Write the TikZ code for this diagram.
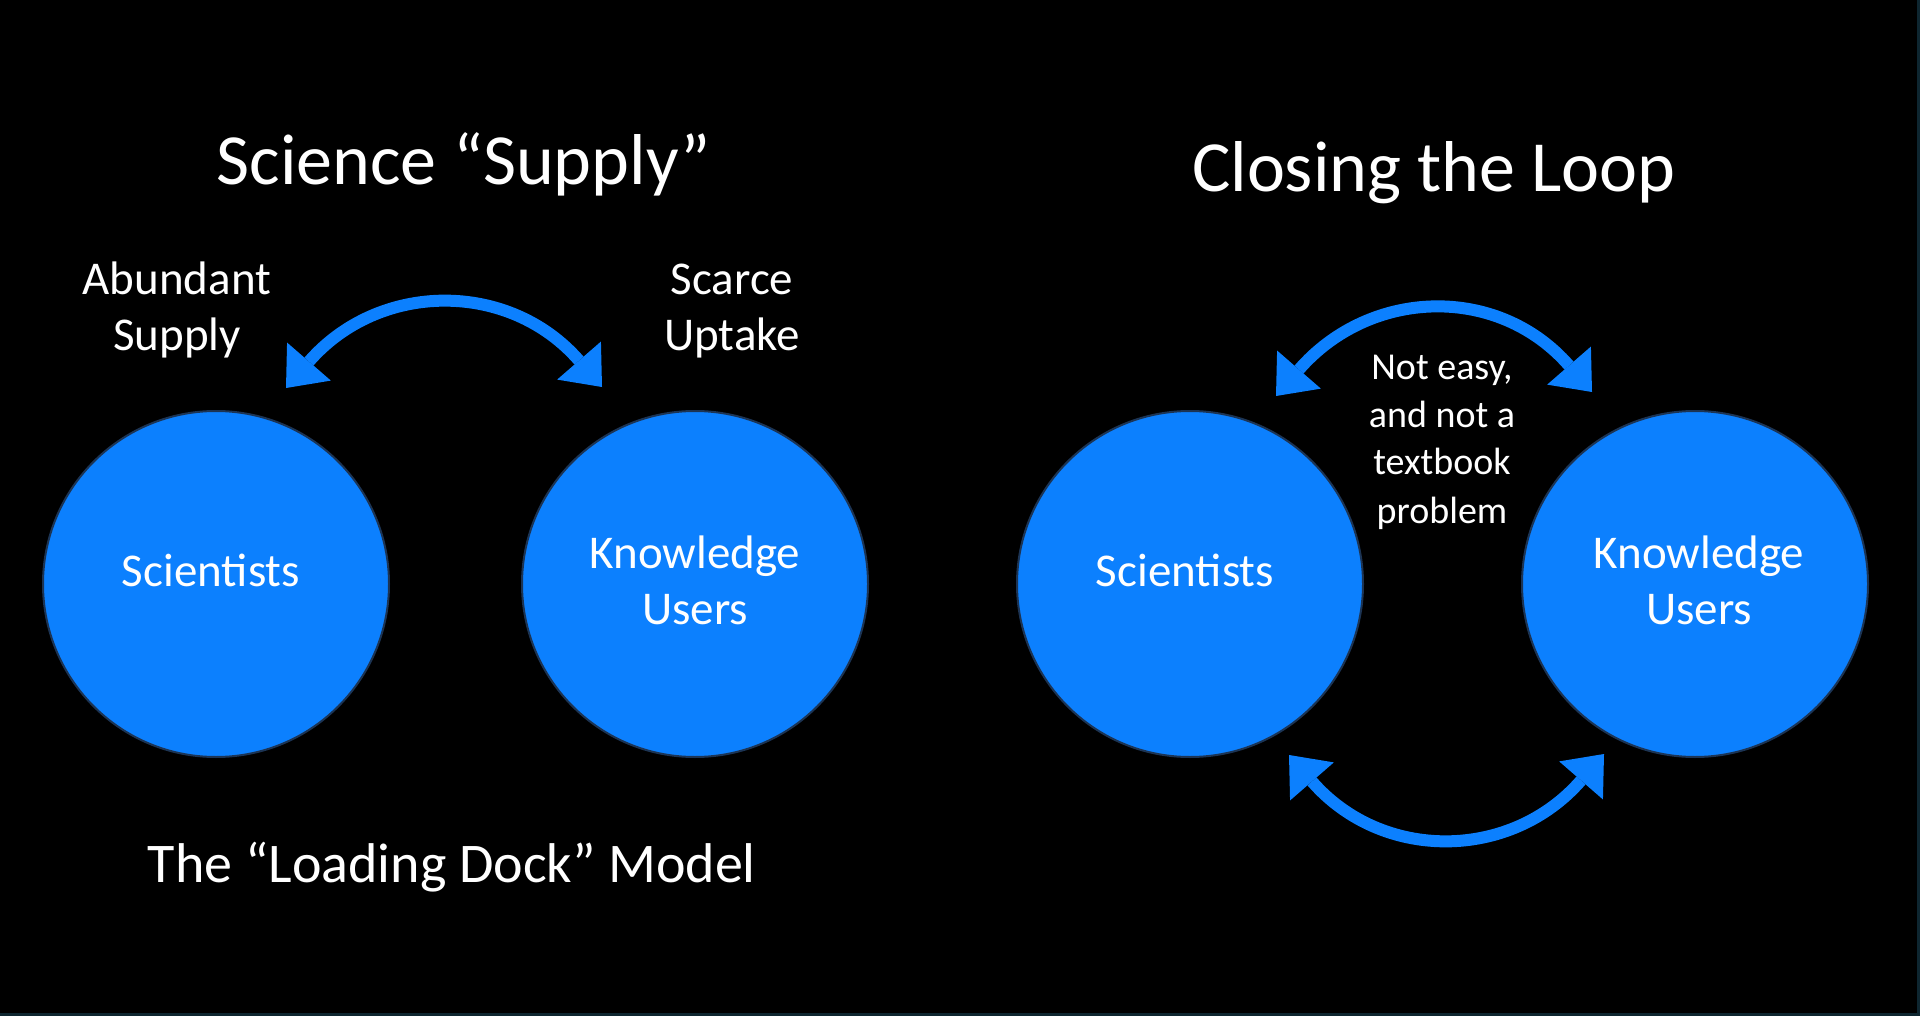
\documentclass[tikz,border=0pt]{standalone}
\usepackage{fontspec}
\setmainfont{Carlito}
\usetikzlibrary{arrows.meta}
\definecolor{azure}{RGB}{12,128,254}
\definecolor{rimblue}{RGB}{28,52,84}
\definecolor{edgeteal}{RGB}{14,38,48}
\newcommand\stackedlines[1]{\begin{tabular}[t]{@{}c@{}}#1\end{tabular}}
\begin{document}
\begin{tikzpicture}[x=1pt,y=-1pt,
  bubble/.style={circle, fill=azure, draw=rimblue, line width=2pt, minimum size=346pt, inner sep=0pt},
  txt/.style={text=white, inner sep=0pt, anchor=base, font=\fontsize{47}{56}\selectfont},
  ttl/.style={text=white, inner sep=0pt, anchor=base, font=\fontsize{72}{86}\selectfont},
  smalltxt/.style={text=white, inner sep=0pt, anchor=base, font=\fontsize{38}{48}\selectfont},
  link/.style={draw=azure, line width=12pt,
    {Triangle[length=35pt,width=58pt,line width=0pt]}-{Triangle[length=35pt,width=58pt,line width=0pt]}}]
% background and frame
\fill[black] (0,0) rectangle (1920,1016);
\fill[edgeteal] (1917,0) rectangle (1920,1016);
\fill[edgeteal] (0,1013) rectangle (1920,1016);

% titles
\node[ttl] (title1) at (464,185) {Science “Supply”};
\node[ttl] (title2) at (1434,192) {Closing the Loop};

% left panel
\node[bubble] (sciL) at (216,584) {};
\node[bubble] (kuL) at (695,584) {};
\node[txt] (sciLtxt) at (211,586) {Scientists};
\node[txt] (kuLtxt) at (695,568) {\stackedlines{Knowledge\\Users}};
\node[txt] (abund) at (177,295) {\stackedlines{Abundant\\Supply}};
\node[txt] (scarce) at (732,295) {\stackedlines{Scarce\\Uptake}};
\node[txt, font=\fontsize{56}{66}\selectfont] (model) at (452,882) {The “Loading Dock” Model};

\coordinate (aL1) at (286,388);
\coordinate (aL2) at (602,387);
\draw[link] (aL1) .. controls (379,281) and (509,280) .. (aL2);

% right panel
\node[bubble] (sciR) at (1190,584) {};
\node[bubble] (kuR) at (1695,584) {};
\node[txt] (sciRtxt) at (1185,586) {Scientists};
\node[txt] (kuRtxt) at (1699,568) {\stackedlines{Knowledge\\Users}};
\node[smalltxt] (note) at (1442,379) {\stackedlines{Not easy,\\and not a\\textbook\\problem}};

\coordinate (aR1) at (1276,396);
\coordinate (aR2) at (1592,392);
\draw[link] (aR1) .. controls (1370,288) and (1498,284) .. (aR2);

\coordinate (bR1) at (1289,755);
\coordinate (bR2) at (1604,754);
\draw[link] (bR1) .. controls (1382,862) and (1511,861) .. (bR2);
\end{tikzpicture}
\end{document}
